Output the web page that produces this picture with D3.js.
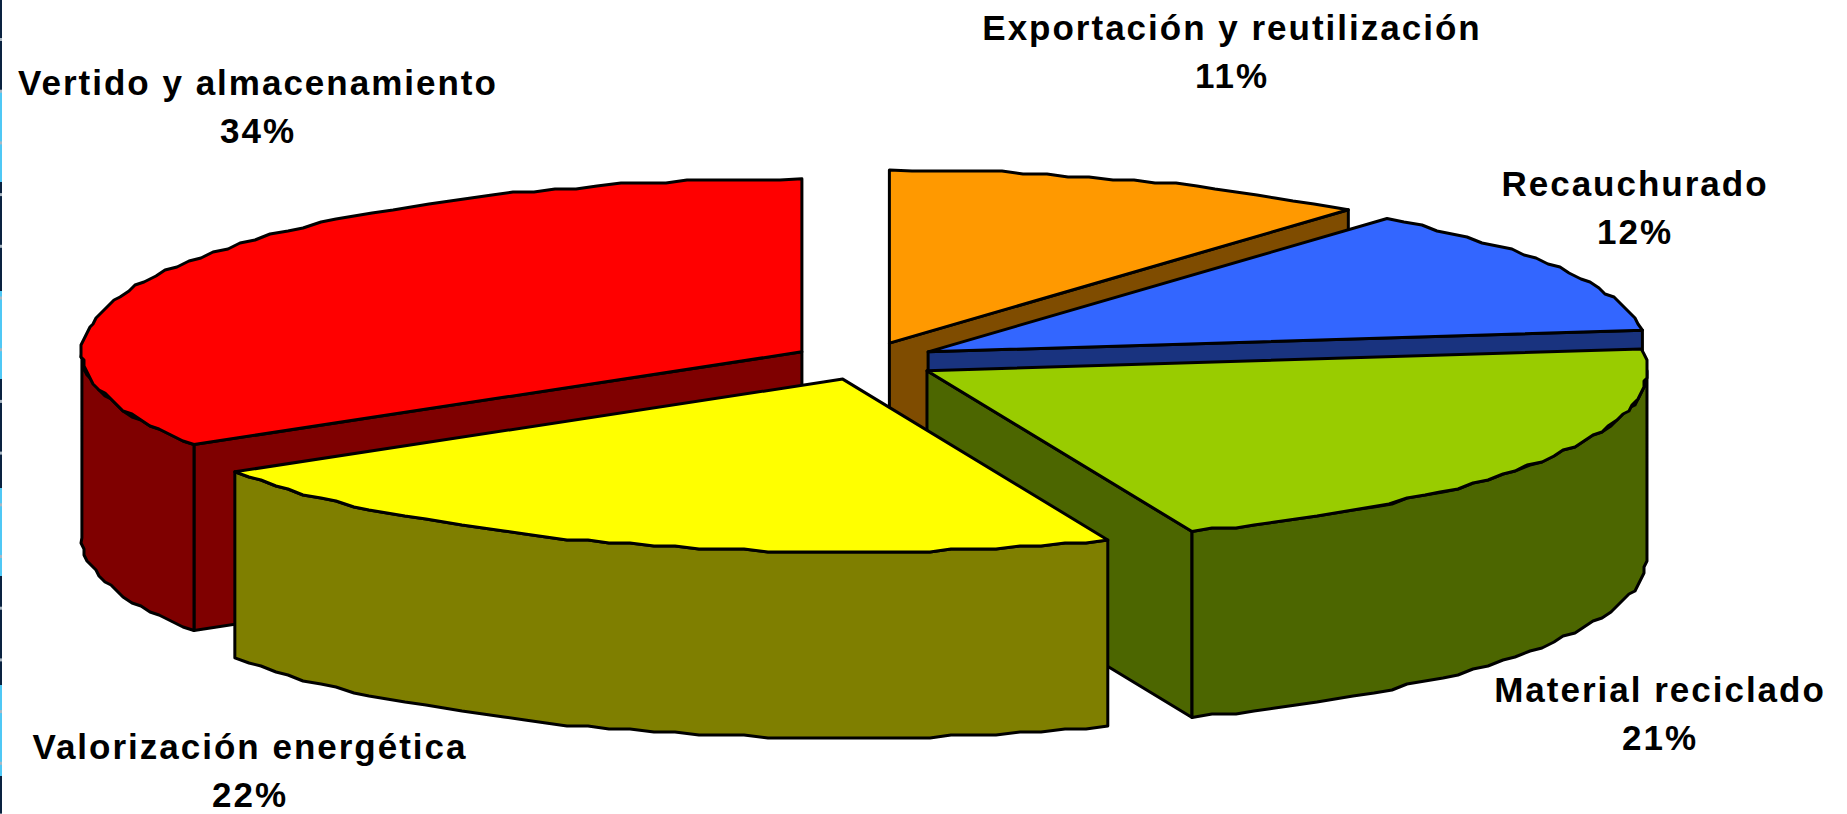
<!DOCTYPE html>
<html>
<head>
<meta charset="utf-8">
<script src="https://cdn.jsdelivr.net/npm/d3@7"></script>
<style>
  html, body { margin: 0; padding: 0; background: #fff; overflow: hidden; }
  text { font-family: "Liberation Sans", Arial, sans-serif; font-weight: bold; font-size: 35px; fill: #000; text-anchor: middle; letter-spacing: 2px; }
</style>
</head>
<body>
<div id="chart"></div>
<script>
'use strict'

// Data, clockwise from the top of the pie.
const categories = ['Exportación y reutilización', 'Recauchurado', 'Material reciclado', 'Valorización energética', 'Vertido y almacenamiento'];
const shares = [11, 12, 21, 22, 34];
const topColors = ['#ff9900', '#3366ff', '#99cc00', '#ffff00', '#ff0000'];
const sideColors = ['#7f4c00', '#19337f', '#4c6600', '#7f7f00', '#7f0000'];

// Label centre and first baseline for each category.
const labelX = [1232, 1635, 1660, 250, 258];
const labelY = [40, 196, 702, 759, 95];

// Stripe on the left edge of the page.
const stripeColors = ['#0a2240', '#4fc8f5'];
const stripeEnds = [91, 182, 291, 379, 488, 576, 685, 776, 814];

// Dimensions and Constants
const width = 1847,
    height = 814,
    depth = 186,
    gridStep = 3,
    sampleStep = 16,
    tickStep = 51.7;

const TAU = 2 * Math.PI;

// Pie coordinates (unit circle) projected on to the tilted page plane.
const x = d3.scaleLinear().domain([-1, 1]).range([865 - 720, 865 + 720]);
const y = d3.scaleLinear().domain([-1, 1]).range([361 + 173, 361 - 173]);

// Explosion offset, a touch larger vertically than the projection gives.
const explodeX = 0.1, explodeY = 0.11;

const arcs = d3.pie().value(d => d).sort(null)(shares);

const svg = d3.select('#chart')
    .append('svg')
        .attr('width', width)
        .attr('height', height)
        .attr('viewBox', [0, 0, width, height]);

// Left edge stripe.
svg.append('g')
    .selectAll('rect')
    .data(stripeEnds)
    .join('rect')
        .attr('x', 0)
        .attr('width', 2)
        .attr('y', (d, i) => i ? stripeEnds[i - 1] : 0)
        .attr('height', (d, i) => d - (i ? stripeEnds[i - 1] : 0))
        .attr('fill', (d, i) => stripeColors[i % 2]);

// Small pale dashes on the stripe.
svg.append('g')
    .selectAll('rect')
    .data(d3.range(38, height, tickStep))
    .join('rect')
        .attr('x', 0)
        .attr('width', 2)
        .attr('y', d => d)
        .attr('height', 3)
        .attr('fill', '#aab8c4');

const line = d3.line();

// Centre of an exploded slice, in page pixels.
function centre(a) {
    const mid = (a.startAngle + a.endAngle) / 2;
    return [x(explodeX * Math.sin(mid)), y(explodeY * Math.cos(mid))];
}

function rimPoint(a, t) {
    const c = centre(a);
    return [c[0] + x(Math.sin(t)) - x(0), c[1] + y(Math.cos(t)) - y(0)];
}

// Rim between two angles. The original is a coarse metafile, so points snap to a grid.
function rim(a, t0, t1) {
    const pts = [rimPoint(a, t0)];
    const n = Math.max(1, Math.round(Math.abs(t1 - t0) * 500 / sampleStep));
    d3.range(1, n).forEach(i => {
        const p = rimPoint(a, t0 + (t1 - t0) * i / n);
        pts.push([Math.round(p[0] / gridStep) * gridStep, Math.round(p[1] / gridStep) * gridStep]);
    });
    pts.push(rimPoint(a, t1));
    return pts;
}

const down = pts => pts.map(p => [p[0], p[1] + depth]);

function drawPath(g, pts, fill) {
    g.append('path')
        .attr('d', line(pts) + 'Z')
        .attr('fill', fill)
        .attr('stroke', '#000')
        .attr('stroke-width', 3)
        .attr('stroke-linejoin', 'round');
}

// Radial side wall along one edge of a slice.
function radialFace(g, a, t, fill) {
    const c = centre(a), p = rimPoint(a, t);
    drawPath(g, [c, p, [p[0], p[1] + depth], [c[0], c[1] + depth]], fill);
}

// Outer wall, only where it faces the viewer.
function outerWall(g, a, fill) {
    const t0 = Math.max(a.startAngle, TAU / 4);
    const t1 = Math.min(a.endAngle, 3 * TAU / 4);
    if (t1 <= t0) return;
    const pts = rim(a, t0, t1);
    drawPath(g, pts.concat(down(pts).reverse()), fill);
}

function topFace(g, a, fill) {
    drawPath(g, [centre(a)].concat(rim(a, a.startAngle, a.endAngle)), fill);
}

// Back to front: export, red, blue, green, yellow.
const pieG = svg.append('g').attr('class', 'pie');
[0, 4, 1, 2, 3].forEach(i => {
    const a = arcs[i];
    const g = pieG.append('g');
    if (a.endAngle < TAU / 2) radialFace(g, a, a.endAngle, sideColors[i]);
    if (a.startAngle > TAU / 2) radialFace(g, a, a.startAngle, sideColors[i]);
    outerWall(g, a, sideColors[i]);
    topFace(g, a, topColors[i]);
});

// Labels.
const labels = svg.append('g')
    .selectAll('text')
    .data(categories)
    .join('text')
        .attr('x', (d, i) => labelX[i])
        .attr('y', (d, i) => labelY[i]);

labels.append('tspan').text(d => d);
labels.append('tspan')
    .attr('x', (d, i) => labelX[i])
    .attr('dy', 48)
    .text((d, i) => shares[i] + '%');
</script>
</body>
</html>
